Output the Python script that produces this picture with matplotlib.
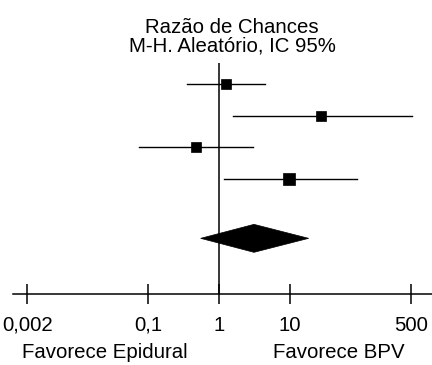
# Forest plot: odds ratios (M-H, random effects, 95% CI) on a log axis.
import matplotlib.pyplot as plt
from matplotlib.patches import Polygon

plt.rcParams["font.family"] = ["Liberation Sans", "DejaVu Sans"]
FS = 14.7

# study estimates (odds ratio, lower CI, upper CI)
odds = [1.255, 27.1, 0.474, 9.78]
ci_low = [0.351, 1.56, 0.0747, 1.176]
ci_high = [4.40, 518, 3.04, 86.9]
rows = [1, 2, 3, 4]

# pooled result
pooled_or = 3.11
pooled_low = 0.552
pooled_high = 18.3
pooled_row = 5.9

tick_values = [0.002, 0.1, 1, 10, 500]
tick_labels = ["0,002", "0,1", "1", "10", "500"]

# marker sizes for each study square (points)
square_sizes = [7.6, 7.0, 7.6, 9.0]

fig = plt.figure(figsize=(4.32, 3.65), dpi=100)
ax = fig.add_axes([13 / 432, 71 / 365, 419 / 432, 231 / 365])
ax.set_xscale("log")
ax.set_xlim(0.001255, 1000)
ax.set_ylim(7.667, 0.333)

# line of no effect
ax.axvline(1, color="black", lw=1.1)

# confidence intervals and squares
for r, o, lo, hi, s in zip(rows, odds, ci_low, ci_high, square_sizes):
    ax.plot([lo, hi], [r, r], color="black", lw=1.0)
    ax.plot(o, r, marker="s", ms=s, color="black", mec="black", mew=0.5)

# pooled diamond
h = 0.444
diamond = Polygon([(pooled_low, pooled_row), (pooled_or, pooled_row - h),
                   (pooled_high, pooled_row), (pooled_or, pooled_row + h)],
                  closed=True, facecolor="black", edgecolor="black", lw=0.5)
ax.add_patch(diamond)

# axis styling
for side in ["left", "top", "right"]:
    ax.spines[side].set_visible(False)
ax.spines["bottom"].set_linewidth(1.1)
ax.set_yticks([])
ax.set_xticks(tick_values)
ax.set_xticklabels(tick_labels, fontsize=FS)
ax.minorticks_off()
ax.tick_params(axis="x", direction="inout", length=15, width=1.1, pad=8)

# titles and footers
fig.text(232 / 432, 1 - 33 / 365, "Razão de Chances", ha="center",
         va="baseline", fontsize=FS)
fig.text(232 / 432, 1 - 51 / 365, "M-H. Aleatório, IC 95%", ha="center",
         va="baseline", fontsize=FS)
fig.text(105 / 432, 1 - 358 / 365, "Favorece Epidural", ha="center",
         va="baseline", fontsize=FS)
fig.text(339 / 432, 1 - 358 / 365, "Favorece BPV", ha="center",
         va="baseline", fontsize=FS)

fig.savefig("out.png", dpi=100)
